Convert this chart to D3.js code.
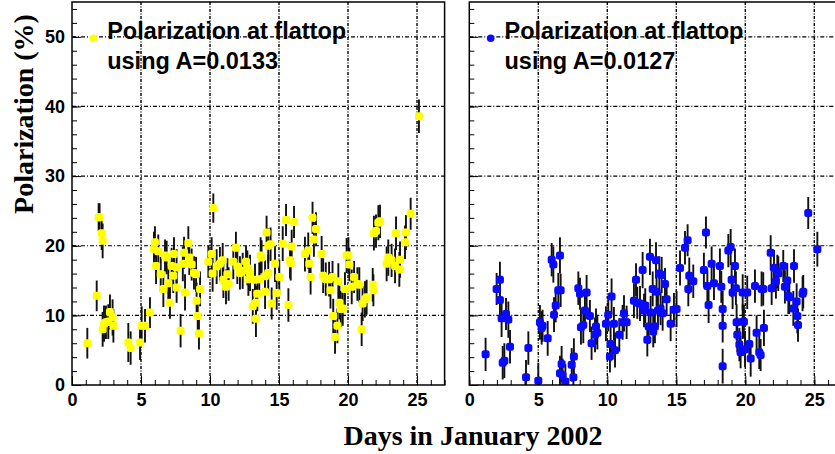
<!DOCTYPE html>
<html><head><meta charset="utf-8">
<script src="https://cdn.jsdelivr.net/npm/d3@7"></script>
<style>
html,body{margin:0;padding:0;background:#fff;}
svg{display:block;}
</style></head>
<body>
<svg id="chart" width="835" height="454"></svg>
<script>
// ---------- DATA ----------
const xTicks = [0, 5, 10, 15, 20, 25];
const yTicks = [0, 10, 20, 30, 40, 50];
const xLabel = "Days in January 2002";
const yLabel = "Polarization (%)";
const legendLeft = ["Polarization at flattop", "using A=0.0133"];
const legendRight = ["Polarization at flattop", "using A=0.0127"];

const leftDays = [1.11,1.79,1.93,2.0,2.15,2.22,2.22,2.32,2.46,2.63,
 2.75,2.94,3.0,4.08,4.25,4.93,5.05,5.29,5.65,5.94,
 6.01,6.09,6.25,6.43,6.62,6.74,6.86,6.98,7.1,7.22,
 7.34,7.39,7.58,7.58,7.87,8.03,8.12,8.19,8.43,8.5,
 8.67,8.84,8.99,9.03,9.11,9.2,9.28,9.88,10.12,10.19,
 10.24,10.48,10.72,10.92,10.97,11.16,11.26,11.35,11.69,11.88,
 11.98,12.17,12.37,12.61,12.71,12.78,12.9,13.1,13.26,13.33,
 13.33,13.43,13.57,13.67,13.74,13.99,13.99,14.1,14.22,14.22,
 14.39,14.47,14.71,14.83,15.02,15.27,15.51,15.68,15.8,15.85,
 15.92,16.09,16.88,17.12,17.19,17.29,17.43,17.53,17.68,18.09,
 18.2,18.39,18.63,18.73,18.88,18.93,19.06,19.23,19.3,19.38,
 19.48,19.62,19.78,19.9,20.03,20.1,20.27,20.44,20.68,20.82,
 20.99,21.06,21.23,21.35,21.79,21.84,21.88,22.03,22.2,22.32,
 22.8,22.92,23.16,23.41,23.48,23.72,23.77,24.13,24.2,24.54,
 25.14];
const leftPol = [6.0,12.8,24.1,24.1,21.8,20.7,8.0,8.8,9.0,9.1,
 10.5,9.7,8.5,6.1,5.3,6.1,8.5,8.5,10.4,19.5,
 20.5,17.1,19.2,15.9,13.8,18.6,18.3,14.6,11.8,17.1,
 15.7,18.8,16.9,14.0,7.8,17.4,19.0,13.3,20.4,18.3,
 17.3,16.1,15.9,12.1,9.9,7.4,13.8,17.7,18.8,16.0,
 25.4,17.0,17.4,17.9,15.1,14.1,15.9,14.5,17.7,19.7,
 17.0,16.1,16.4,17.7,16.8,15.2,16.1,11.3,15.1,11.8,
 9.5,13.1,15.2,18.6,18.3,15.6,13.4,21.9,16.1,20.0,
 20.2,11.7,17.4,13.2,15.5,20.3,23.7,11.5,17.9,17.5,
 19.9,23.4,18.8,19.3,17.4,15.5,24.0,20.9,22.4,18.8,
 15.7,15.2,15.2,13.6,15.5,9.9,6.9,8.5,14.9,11.8,
 10.9,11.0,13.8,18.6,18.6,17.3,14.1,15.5,14.5,14.4,
 8.0,11.7,12.3,12.6,14.4,13.6,21.8,22.1,23.3,23.5,
 17.4,18.3,17.9,17.1,21.8,16.6,18.0,20.5,21.9,24.6,
 38.6];
const leftErr = [2.2,2.2,2.0,2.0,2.4,2.5,2.5,2.6,2.4,2.5,
 2.5,2.6,2.4,2.8,2.4,2.5,2.8,2.4,2.2,2.5,
 2.3,2.6,2.4,2.5,2.6,2.3,2.4,2.5,2.3,2.6,
 2.5,2.4,2.6,2.2,2.4,2.5,2.3,2.6,2.4,2.5,
 2.3,2.4,2.5,2.6,2.4,2.3,2.5,2.3,2.4,2.6,
 2.1,2.5,2.4,2.5,2.6,2.5,2.3,2.4,2.5,2.3,
 2.5,2.4,2.6,2.3,2.5,2.4,2.6,2.5,2.3,2.4,
 2.6,2.5,2.4,2.6,2.5,2.3,2.5,2.4,2.6,2.5,
 2.4,2.3,2.6,2.4,2.5,2.5,2.3,2.4,2.6,2.5,
 2.4,2.3,2.5,2.6,2.4,2.5,2.3,2.5,2.4,2.6,
 2.5,2.4,2.5,2.6,2.3,2.5,2.4,2.5,2.6,2.4,
 2.6,2.5,2.4,2.5,2.6,2.4,2.5,2.3,2.4,2.5,
 2.4,2.5,2.6,2.5,2.4,2.3,2.5,2.4,2.5,2.4,
 2.5,2.6,2.4,2.5,2.4,2.5,2.6,2.4,2.5,2.3,
 2.4];

const rightDays = [1.18,1.98,2.22,2.22,2.34,2.42,2.54,2.66,2.83,2.95,
 4.11,4.28,5.0,5.12,5.24,5.31,5.68,5.97,6.09,6.14,
 6.26,6.45,6.57,6.62,6.57,6.69,6.76,6.96,7.42,7.58,
 7.54,7.9,8.02,8.09,8.26,8.38,8.5,8.74,8.86,9.11,
 9.18,9.28,9.9,10.07,10.19,10.24,10.31,10.48,10.56,10.87,
 11.11,11.21,11.4,11.93,12.08,12.17,12.37,12.56,12.66,12.75,
 12.9,13.0,13.09,13.14,13.29,13.33,13.45,13.53,13.57,13.67,
 13.77,13.86,13.94,14.01,14.18,14.3,14.59,14.83,15.02,15.27,
 15.63,15.82,15.87,15.94,16.23,17.0,17.15,17.25,17.34,17.56,
 17.73,18.16,18.26,18.36,18.36,18.36,18.77,18.94,19.01,19.08,
 19.25,19.32,19.37,19.42,19.57,19.66,19.81,19.9,19.81,19.98,
 20.14,20.29,20.39,20.7,20.82,21.01,21.11,21.18,21.3,21.35,
 21.84,21.91,22.08,22.22,22.32,22.39,22.75,22.87,23.04,23.12,
 23.19,23.48,23.53,23.72,23.77,23.82,24.15,24.2,24.56,25.22];
const rightPol = [4.4,13.8,15.1,12.2,9.6,3.2,3.5,10.2,9.4,5.5,
 1.1,5.3,0.6,9.0,8.2,8.5,6.7,18.0,17.3,10.1,
 11.4,13.6,18.6,13.6,1.7,3.0,1.4,0.5,2.9,4.1,
 1.1,13.9,13.1,8.3,8.6,10.7,13.3,9.9,6.0,7.2,
 8.4,7.5,8.8,10.1,4.1,5.9,12.7,8.8,5.0,7.2,
 9.0,10.3,9.0,12.1,15.1,11.8,11.7,16.5,10.7,11.4,
 6.5,8.4,18.4,10.4,13.8,7.7,8.4,17.9,13.4,10.7,
 16.0,11.0,15.8,10.3,14.5,12.3,8.8,10.8,10.9,16.8,
 19.7,20.8,13.8,15.7,14.9,16.5,21.9,14.2,11.5,17.4,
 14.6,17.1,14.1,10.9,8.5,2.7,19.3,19.8,15.1,13.3,
 17.1,13.9,9.0,7.2,5.8,4.7,9.1,9.1,13.3,5.1,
 13.3,5.9,3.8,14.2,7.5,4.7,4.3,13.8,13.8,8.2,
 19.0,13.9,16.8,14.9,16.3,16.0,17.1,14.1,15.0,12.8,
 12.6,11.0,17.1,12.0,9.9,8.6,13.1,13.4,24.7,19.5];
const rightErr = [2.4,2.3,2.6,2.5,2.7,2.4,2.5,2.3,2.6,2.4,
 2.5,2.4,2.6,2.5,2.4,2.3,2.5,2.4,2.6,2.5,
 2.4,2.5,2.6,2.4,2.5,2.6,2.4,2.5,2.4,2.6,
 2.5,2.4,2.3,2.5,2.6,2.4,2.5,2.3,2.4,2.5,
 2.6,2.4,2.5,2.4,2.3,2.5,2.6,2.4,2.5,2.4,
 2.5,2.6,2.4,2.5,2.4,2.3,2.5,2.6,2.4,2.5,
 2.4,2.5,2.6,2.4,2.5,2.3,2.4,2.6,2.5,2.4,
 2.5,2.4,2.6,2.5,2.3,2.4,2.5,2.4,2.6,2.5,
 2.4,2.3,2.5,2.6,2.4,2.5,2.3,2.4,2.6,2.5,
 2.4,2.5,2.3,2.6,2.4,2.5,2.4,2.6,2.5,2.4,
 2.5,2.4,2.6,2.5,2.4,2.3,2.5,2.4,2.6,2.5,
 2.4,2.5,2.6,2.4,2.5,2.4,2.3,2.5,2.4,2.6,
 2.5,2.4,2.6,2.5,2.4,2.5,2.3,2.4,2.5,2.6,
 2.4,2.5,2.4,2.6,2.5,2.4,2.5,2.4,2.3,2.5];

// ---------- LAYOUT ----------
const svg = d3.select("#chart");
const plotTop = 2, plotBottom = 385;
const panels = [
  {x0: 72, x1: 444.6, days: leftDays, pol: leftPol, err: leftErr, color: "#ffff00", legend: legendLeft, yLabels: true},
  {x0: 469.3, x1: 841.9, days: rightDays, pol: rightPol, err: rightErr, color: "#0a0aff", legend: legendRight, yLabels: false}
];

panels.forEach((p, pi) => {
  const x = d3.scaleLinear().domain([0, 27]).range([p.x0, p.x1]);
  const y = d3.scaleLinear().domain([0, 55]).range([plotBottom, plotTop]);
  const g = svg.append("g");

  const clipId = "clip" + pi;
  svg.append("clipPath").attr("id", clipId).append("rect")
    .attr("x", p.x0).attr("y", plotTop).attr("width", p.x1 - p.x0).attr("height", plotBottom - plotTop);

  // grid lines
  g.append("g").selectAll("line").data(yTicks.filter(d => d > 0)).join("line")
    .attr("x1", p.x0).attr("x2", p.x1).attr("y1", d => y(d)).attr("y2", d => y(d))
    .attr("stroke", "#000").attr("stroke-width", 1.2).attr("stroke-dasharray", "4,2,1,2");
  g.append("g").selectAll("line").data(xTicks.filter(d => d > 0)).join("line")
    .attr("x1", d => x(d)).attr("x2", d => x(d)).attr("y1", plotTop).attr("y2", plotBottom)
    .attr("stroke", "#000").attr("stroke-width", 1.4).attr("stroke-dasharray", "3,1.5,1,1.5");

  // minor ticks
  const xMinor = d3.range(0, 28, 1);
  const yMinor = d3.range(0, 56, 2);
  g.append("g").attr("transform", `translate(0,${plotBottom})`)
    .call(d3.axisBottom(x).tickValues(xMinor).tickSize(-5).tickFormat(""))
    .call(s => s.select(".domain").remove())
    .selectAll("line").attr("stroke", "#000");
  g.append("g").attr("transform", `translate(${p.x0},0)`)
    .call(d3.axisLeft(y).tickValues(yMinor).tickSize(-5).tickFormat(""))
    .call(s => s.select(".domain").remove())
    .selectAll("line").attr("stroke", "#000");

  // major axes with labels
  const xa = g.append("g").attr("transform", `translate(0,${plotBottom})`)
    .call(d3.axisBottom(x).tickValues(xTicks).tickSize(-9).tickPadding(8).tickFormat(d3.format("d")));
  xa.select(".domain").remove();
  xa.selectAll("line").attr("stroke", "#000");
  xa.selectAll("text").attr("font-family", "'Liberation Sans', Arial, sans-serif")
    .attr("font-weight", "bold").attr("font-size", 18).attr("fill", "#000").attr("dy", "0.72em");

  const ya = g.append("g").attr("transform", `translate(${p.x0},0)`)
    .call(d3.axisLeft(y).tickValues(yTicks).tickSize(-9).tickPadding(7)
      .tickFormat(p.yLabels ? d3.format("d") : () => ""));
  ya.select(".domain").remove();
  ya.selectAll("line").attr("stroke", "#000");
  ya.selectAll("text").attr("font-family", "'Liberation Sans', Arial, sans-serif")
    .attr("font-weight", "bold").attr("font-size", 18).attr("fill", "#000");

  // data
  const data = p.days.map((d, i) => ({d, v: p.pol[i], e: p.err[i]}));
  const dg = g.append("g").attr("clip-path", `url(#${clipId})`);
  dg.selectAll("line.err").data(data).join("line").attr("class", "err")
    .attr("x1", d => x(d.d)).attr("x2", d => x(d.d))
    .attr("y1", d => y(d.v - d.e)).attr("y2", d => y(d.v + d.e))
    .attr("stroke", "#111").attr("stroke-width", 1.9);
  dg.selectAll("rect.pt").data(data).join("rect").attr("class", "pt")
    .attr("x", d => x(d.d) - 4).attr("y", d => y(d.v) - 4)
    .attr("width", 8).attr("height", 8).attr("rx", 2.5)
    .attr("fill", p.color);

  // frame
  g.append("rect").attr("x", p.x0).attr("y", plotTop).attr("width", p.x1 - p.x0).attr("height", plotBottom - plotTop)
    .attr("fill", "none").attr("stroke", "#000").attr("stroke-width", 1.5);

  // legend
  const lg = g.append("g");
  lg.append("circle").attr("cx", x(1.55)).attr("cy", y(49.8)).attr("r", 3.8).attr("fill", p.color);
  lg.selectAll("text").data(p.legend).join("text")
    .attr("x", x(2.55)).attr("y", (d, i) => 39 + i * 30)
    .attr("font-family", "'Liberation Sans', Arial, sans-serif").attr("font-weight", "bold")
    .attr("font-size", 23.5).attr("fill", "#000").text(d => d);
});

// axis titles
svg.append("text").attr("transform", "translate(33,114) rotate(-90)")
  .attr("text-anchor", "middle").attr("font-family", "'Liberation Serif', 'Times New Roman', serif")
  .attr("font-weight", "bold").attr("font-size", 28).attr("fill", "#000").text(yLabel);
svg.append("text").attr("x", 473).attr("y", 445)
  .attr("text-anchor", "middle").attr("font-family", "'Liberation Serif', 'Times New Roman', serif")
  .attr("font-weight", "bold").attr("font-size", 28).attr("fill", "#000").text(xLabel);
</script>
</body></html>
